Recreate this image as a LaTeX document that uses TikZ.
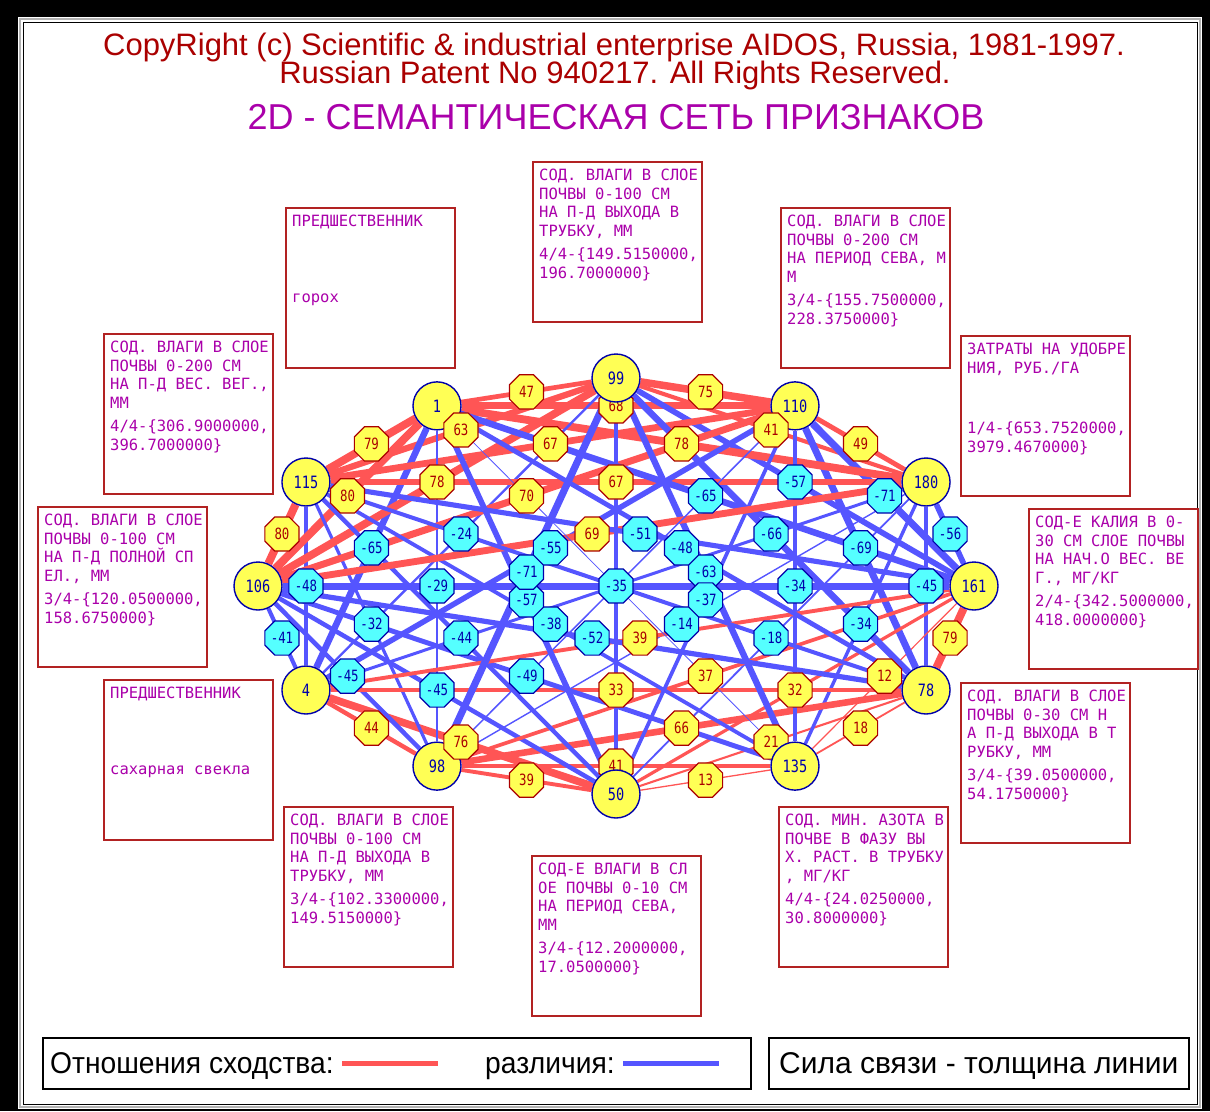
\documentclass[tikz,border=0pt]{standalone}
\usepackage{graphicx}
\usepackage{fontspec}
\setmainfont{Liberation Sans}
\newfontfamily\boxfont{DejaVu Sans Mono}
\newfontfamily\numfont[FakeStretch=0.8]{DejaVu Sans Mono}
\usetikzlibrary{calc,positioning,shapes.geometric}

\definecolor{dosred}{RGB}{170,0,0}
\definecolor{dosmag}{RGB}{170,0,170}
\definecolor{dosblue}{RGB}{0,0,170}
\definecolor{dosyellow}{RGB}{255,255,85}
\definecolor{doscyan}{RGB}{85,255,255}
\definecolor{linkred}{RGB}{255,85,85}
\definecolor{linkblue}{RGB}{85,85,255}
\definecolor{boxred}{RGB}{178,34,34}

\pgfdeclarelayer{paper}
\pgfdeclarelayer{links}
\pgfsetlayers{paper,links,main}

% feature box: name, x, y, title lines, value lines
\newcommand\featbox[5]{%
  \node[featframe] (#1) at (#2,#3) {};
  \node[boxtext] (#1t) at ($(#1.north west)+(7,8)$) {#4};
  \node[boxtext] (#1v) at ($(#1.north west)+(7,87)$) {#5};
}

% pairs of features: i/j/strength
\def\pairlist{0/1/75,1/2/49,2/3/-56,3/4/79,4/5/18,5/6/13,6/7/39,7/8/44,8/9/-41,9/10/80,10/11/79,11/0/47,%
0/2/41,1/3/-71,2/4/-45,3/5/12,4/6/21,5/7/41,6/8/76,7/9/-45,8/10/-48,9/11/80,10/0/63,11/1/68,%
0/3/-57,1/4/-69,2/5/-34,3/6/32,4/7/66,6/9/-45,7/10/-32,8/11/-65,9/0/78,10/1/67,11/2/78,%
0/4/-66,1/5/-34,2/6/-18,3/7/37,4/8/33,5/9/-49,6/10/-44,7/11/-29,8/0/-24,9/1/70,10/2/67,11/3/-65,%
0/5/-63,1/6/-37,2/7/-14,3/8/39,4/9/-52,5/10/-38,6/11/-57,7/0/-71,8/1/-55,9/2/69,10/3/-51,11/4/-48,%
0/6/-35}

\begin{document}
\begin{tikzpicture}[x=1pt,y=-1pt,
    feat/.style={circle, draw=dosblue, line width=1.4pt, fill=dosyellow, minimum size=48pt,
      inner sep=0pt, text=dosblue, font=\numfont\fontsize{17}{17}\selectfont},
    lbl/.style={regular polygon, regular polygon sides=8, minimum size=37pt, inner sep=0pt,
      line width=1.2pt, font=\numfont\fontsize{15.5}{15.5}\selectfont},
    poslbl/.style={lbl, draw=dosred, fill=dosyellow, text=dosred},
    neglbl/.style={lbl, draw=dosblue, fill=doscyan, text=dosblue},
    lblsign/.code={\ifnum#1<0 \pgfkeysalso{neglbl}\else\pgfkeysalso{poslbl}\fi},
    link/.code={\ifnum#1<0 \pgfkeysalso{draw=linkblue}\else\pgfkeysalso{draw=linkred}\fi
      \pgfmathsetmacro\lnkw{max(0.6,0.1*abs(#1))}\pgfkeysalso{line width=\lnkw pt}},
    featframe/.style={draw=boxred, line width=2.4pt, minimum width=169pt, minimum height=160pt,
      inner sep=0pt, anchor=north west},
    boxtext/.style={anchor=north west, inner sep=0pt, align=left, text=dosmag,
      font=\boxfont\fontsize{15.5}{18.6}\selectfont},
    legframe/.style={draw, line width=1.6pt, inner sep=0pt, anchor=north west, minimum height=51pt},
    legtext/.style={anchor=base west, inner sep=0pt, font=\fontsize{30}{30}\selectfont}]
  \useasboundingbox (0,0) rectangle (1210,1111);

  % screen frame
  \begin{pgfonlayer}{paper}
    \fill[black] (0,0) rectangle (1210,1111);
    \fill[white] (18,17) rectangle (1202,1109);
    \draw[gray!60, line width=1.5pt] (20,19) rectangle (1200,1107);
    \draw[black, line width=1pt] (23,22) rectangle (1197,1104);
  \end{pgfonlayer}

  % headings
  \node[anchor=base, text=dosred, font=\fontsize{31}{31}\selectfont] (copy1) at (614,55)
    {CopyRight (c) Scientific \& industrial enterprise AIDOS, Russia, 1981-1997.};
  \node[anchor=base, text=dosred, font=\fontsize{31}{31}\selectfont] (copy2) at (615,83)
    {Russian Patent No 940217. All Rights Reserved.};
  \node[anchor=base, text=dosmag, font=\fontsize{36}{36}\selectfont] (title) at (616,129)
    {2D - СЕМАНТИЧЕСКАЯ СЕТЬ ПРИЗНАКОВ};

  % feature descriptions
  \featbox{bA}{532}{161}{СОД. ВЛАГИ В СЛОЕ\\ПОЧВЫ 0-100 СМ\\НА П-Д ВЫХОДА В\\ТРУБКУ, ММ}{4/4-\{149.5150000,\\196.7000000\}}
  \featbox{bB}{285}{207}{ПРЕДШЕСТВЕННИК}{горох}
  \featbox{bC}{780}{207}{СОД. ВЛАГИ В СЛОЕ\\ПОЧВЫ 0-200 СМ\\НА ПЕРИОД СЕВА, М\\М}{3/4-\{155.7500000,\\228.3750000\}}
  \featbox{bD}{103}{333}{СОД. ВЛАГИ В СЛОЕ\\ПОЧВЫ 0-200 СМ\\НА П-Д ВЕС. ВЕГ.,\\ММ}{4/4-\{306.9000000,\\396.7000000\}}
  \featbox{bE}{960}{335}{ЗАТРАТЫ НА УДОБРЕ\\НИЯ, РУБ./ГА}{1/4-\{653.7520000,\\3979.4670000\}}
  \featbox{bF}{37}{506}{СОД. ВЛАГИ В СЛОЕ\\ПОЧВЫ 0-100 СМ\\НА П-Д ПОЛНОЙ СП\\ЕЛ., ММ}{3/4-\{120.0500000,\\158.6750000\}}
  \featbox{bG}{1028}{508}{СОД-Е КАЛИЯ В 0-\\30 СМ СЛОЕ ПОЧВЫ\\НА НАЧ.О ВЕС. ВЕ\\Г., МГ/КГ}{2/4-\{342.5000000,\\418.0000000\}}
  \featbox{bH}{103}{679}{ПРЕДШЕСТВЕННИК}{сахарная свекла}
  \featbox{bI}{960}{682}{СОД. ВЛАГИ В СЛОЕ\\ПОЧВЫ 0-30 СМ Н\\А П-Д ВЫХОДА В Т\\РУБКУ, ММ}{3/4-\{39.0500000,\\54.1750000\}}
  \featbox{bJ}{283}{806}{СОД. ВЛАГИ В СЛОЕ\\ПОЧВЫ 0-100 СМ\\НА П-Д ВЫХОДА В\\ТРУБКУ, ММ}{3/4-\{102.3300000,\\149.5150000\}}
  \featbox{bK}{531}{855}{СОД-Е ВЛАГИ В СЛ\\ОЕ ПОЧВЫ 0-10 СМ\\НА ПЕРИОД СЕВА,\\ММ}{3/4-\{12.2000000,\\17.0500000\}}
  \featbox{bL}{778}{806}{СОД. МИН. АЗОТА В\\ПОЧВЕ В ФАЗУ ВЫ\\Х. РАСТ. В ТРУБКУ\\, МГ/КГ}{4/4-\{24.0250000,\\30.8000000\}}

  % features on an ellipse
  \foreach \k in {0,...,11}
    \coordinate (p\k) at ({616+358*cos(90-30*\k)},{586-208*sin(90-30*\k)});
  \foreach \k/\v in {1/110,2/180,3/161,4/78,7/98,8/4,9/106,10/115,11/1}
    \node[feat] (n\k) at (p\k) {\v};

  % strength labels
  \foreach \i/\j/\v in \pairlist
    \node[lblsign=\v] (e\i-\j) at ($(p\i)!.5!(p\j)$) {\v};

  \foreach \k/\v in {0/99,5/135,6/50}
    \node[feat] (n\k) at (p\k) {\v};

  % links
  \begin{pgfonlayer}{links}
    \foreach \i/\j/\v in \pairlist
      \draw[link=\v] (n\i) -- (n\j);
    \foreach \i/\j/\v in {1/7/-15,2/8/-30,3/9/-70,4/10/-40,5/11/-8}
      \draw[link=\v] (n\i) -- (n\j);
  \end{pgfonlayer}

  % legend
  \node[legframe, minimum width=708pt] (legA) at (42,1037) {};
  \node[legframe, minimum width=420pt] (legB) at (768,1037) {};
  \node[legtext] (simtxt) at (50,1073) {\scalebox{0.94}[1]{Отношения сходства:}};
  \node[legtext] (diftxt) at (485,1073) {\scalebox{0.94}[1]{различия:}};
  \node[legtext] (wtxt) at (779,1073) {Сила связи - толщина линии};
  \coordinate (simA) at (342,1063);
  \coordinate (simB) at (438,1063);
  \coordinate (difA) at (623,1063);
  \coordinate (difB) at (719,1063);
  \draw[linkred, line width=5pt] (simA) -- (simB);
  \draw[linkblue, line width=5pt] (difA) -- (difB);
\end{tikzpicture}
\end{document}
